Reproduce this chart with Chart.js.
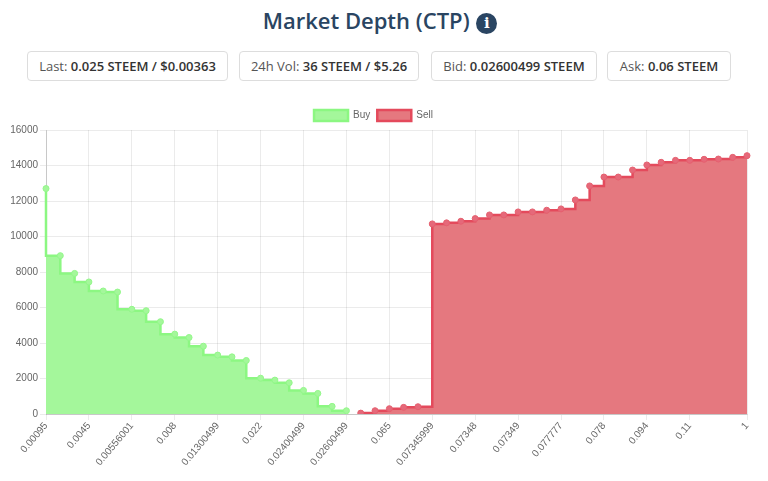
<!DOCTYPE html>
<html><head><meta charset="utf-8">
<script src="https://cdn.jsdelivr.net/npm/chart.js@4"></script>
<style>
html,body{margin:0;padding:0;background:#fff;width:768px;height:481px;overflow:hidden}
body{font-family:"Open Sans",sans-serif;color:#444}
#title{position:absolute;left:-4px;top:2px;width:768px;text-align:center;font-size:22px;font-weight:600;color:#2a4562;line-height:36px;white-space:nowrap}
#title .i{display:inline-block;width:21px;height:21px;border-radius:50%;background:#2a4562;color:#fff;font:bold 15px/21px "DejaVu Serif",serif;text-align:center;vertical-align:1px;margin-left:1px}
.box{position:absolute;top:51px;height:30px;box-sizing:border-box;border:1px solid #ddd;border-radius:4px;font-size:13px;line-height:28px;text-align:center;white-space:nowrap;background:#fff;color:#555}
.box b{font-weight:600;color:#333}
#c{position:absolute;left:0;top:100px}
</style></head><body>
<div id="title">Market Depth (CTP) <span class="i">i</span></div>
<div class="box" style="left:27px;width:201px">Last: <b>0.025 STEEM / $0.00363</b></div>
<div class="box" style="left:239px;width:180px">24h Vol: <b>36 STEEM / $5.26</b></div>
<div class="box" style="left:431px;width:166px">Bid: <b>0.02600499 STEEM</b></div>
<div class="box" style="left:607px;width:124px">Ask: <b>0.06 STEEM</b></div>
<canvas id="c" width="768" height="381"></canvas>
<script>
const categories = ["0.00095","0.002","0.003","0.0045","0.005","0.0055","0.00556001","0.006","0.007","0.008","0.009","0.01","0.01300499","0.015","0.02","0.022","0.023","0.0235","0.02400499","0.025","0.0255","0.02600499","0.06","0.062","0.065","0.07","0.0734","0.07345999","0.07346","0.07347","0.07348","0.073485","0.07349","0.07349","0.0735","0.075","0.077777","0.07777","0.0778","0.078","0.08","0.09","0.094","0.1","0.105","0.11","0.12","0.15","0.5","1"];
const buyValues = [12700,8920,7920,7440,6930,6870,5900,5820,5200,4500,4310,3820,3320,3220,3015,2020,1910,1760,1330,1160,430,185];
const sellValues = [50,185,300,375,410,10710,10770,10860,11010,11215,11215,11385,11385,11480,11555,12060,12850,13350,13350,13745,14030,14180,14290,14290,14350,14365,14460,14555];
const tickEvery = 3;
const yTicks = [0,2000,4000,6000,8000,10000,12000,14000,16000];
const buyData = categories.map((_, i) => i < buyValues.length ? buyValues[i] : null);
const sellData = categories.map((_, i) => i >= buyValues.length ? sellValues[i - buyValues.length] : null);
const tickFont = {family:'"Liberation Sans",Arial,sans-serif',size:10};
new Chart(document.getElementById('c'), {
  type: 'line',
  plugins:[{ id:'legendNudge', afterLayout(c){ c.legend.top += 1; } }],
  data: { labels: categories, datasets: [
    { label:'Buy', data:buyData, stepped:'after', fill:'origin', backgroundColor:'#a4f79b', borderColor:'#8cf782', borderWidth:2.5, pointRadius:3, pointBackgroundColor:'#a4f79b', pointBorderColor:'#93f78a', pointBorderWidth:1 },
    { label:'Sell', data:sellData, stepped:'before', fill:'origin', backgroundColor:'#e5787f', borderColor:'#e44a5c', borderWidth:2.5, pointRadius:3, pointBackgroundColor:'#e5697a', pointBorderColor:'#e5606f', pointBorderWidth:1 }
  ]},
  options: {
    responsive:false, animation:false, devicePixelRatio:1,
    layout:{ padding:{ left:0, right:21, top:2, bottom:0 } },
    plugins:{ tooltip:{enabled:false},
      legend:{ position:'top', labels:{ boxWidth:34, boxHeight:11, font:tickFont, color:'#666', padding:7 } } },
    scales:{
      x:{ grid:{ color:'rgba(0,0,0,0.08)', tickLength:6 }, border:{color:'rgba(0,0,0,0.15)'},
        afterBuildTicks:a=>{ a.ticks = a.ticks.filter(t => t.value % tickEvery === 0 && t.value < categories.length-2 || t.value === categories.length-1); },
        afterFit:a=>{ a.height = 67; },
        ticks:{ autoSkip:false, maxRotation:50, minRotation:50, color:'#666', font:tickFont, padding:0 } },
      y:{ min:0, max:16000, grid:{ color:'rgba(0,0,0,0.08)', tickLength:6 }, border:{color:'rgba(0,0,0,0.15)'},
        afterBuildTicks:a=>{ a.ticks = yTicks.map(v=>({value:v})); },
        afterFit:a=>{ a.width = 46; },
        ticks:{ color:'#666', font:tickFont, padding:2, callback:v=>String(v) } }
    }
  }
});
</script>
</body></html>
